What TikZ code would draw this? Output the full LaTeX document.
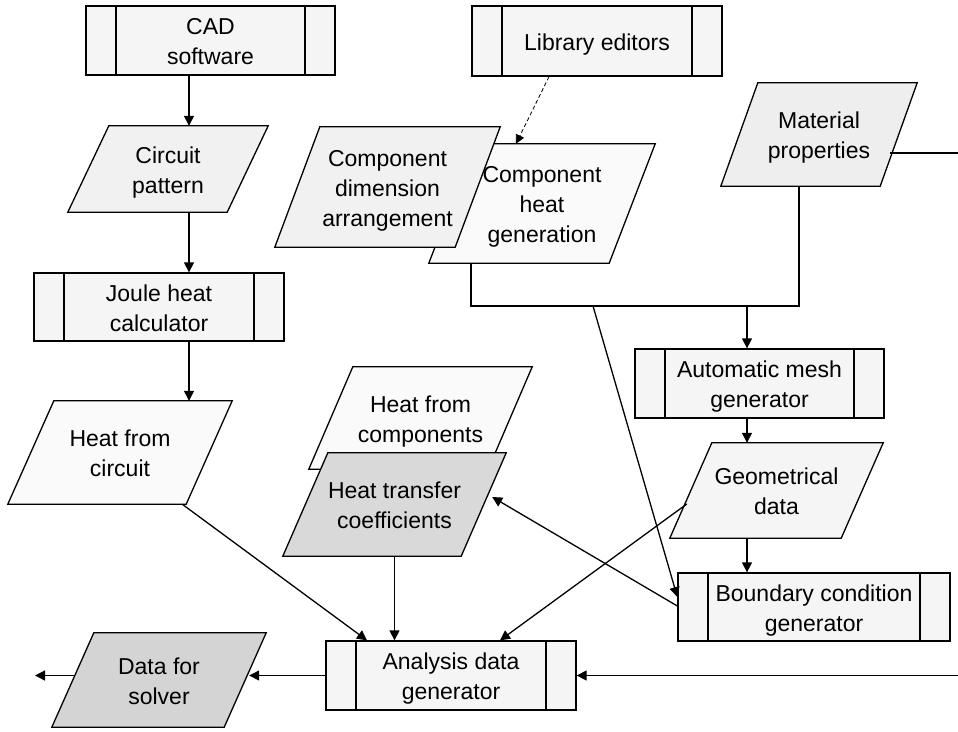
\documentclass[tikz,border=0pt]{standalone}
\usepackage{fontspec}
\setmainfont{Liberation Sans}
\usetikzlibrary{arrows.meta,calc}
\pgfdeclarelayer{background}
\pgfsetlayers{background,main}
\definecolor{pfill}{HTML}{F5F5F5}
\definecolor{lgray}{HTML}{F1F1F1}
\definecolor{wgray}{HTML}{FAFAFA}
\definecolor{mgray}{HTML}{EEEEEE}
\definecolor{dgray}{HTML}{D9D9D9}
\definecolor{sgray}{HTML}{D4D4D4}
\newcommand\paragram[3]{%
  \draw[line width=1.3pt,fill=#3] ([xshift=#2pt]#1.north west) -- (#1.north east) -- ([xshift=-#2pt]#1.south east) -- (#1.south west) -- cycle;}
\newcommand\tl[1]{\rule{0pt}{24.4pt}#1\rule[-6pt]{0pt}{0pt}}
\begin{document}
\begin{tikzpicture}[x=1pt,y=-1pt,
  font=\fontsize{23pt}{30pt}\selectfont,
  proc/.style={draw, line width=1.3pt, fill=pfill, inner sep=0pt, align=center,
    path picture={\draw[line width=1.3pt]
      ([xshift=30pt]path picture bounding box.north west) -- ([xshift=30pt]path picture bounding box.south west)
      ([xshift=-30pt]path picture bounding box.north east) -- ([xshift=-30pt]path picture bounding box.south east);}},
  para/.style={inner sep=0pt, align=center},
  arr/.style={line width=1.3pt, -{Triangle[length=10pt,width=10pt]}},
  plain/.style={line width=1.3pt},
  dasharr/.style={line width=0.8pt, dash pattern=on 4pt off 2.5pt, -{Triangle[length=9pt,width=9pt]}}]
\useasboundingbox (0,0) rectangle (958,731);

% process boxes
\node[proc, minimum width=249pt, minimum height=69pt] (cad) at (210.5,40.5) {\tl{CAD\\software}};
\node[proc, minimum width=250pt, minimum height=70pt] (lib) at (597,41) {\tl{Library editors}};
\node[proc, minimum width=250pt, minimum height=68pt] (joule) at (159,307) {\tl{Joule heat\\calculator}};
\node[proc, minimum width=249pt, minimum height=69pt] (mesh) at (759.5,383.5) {\tl{Automatic mesh\\generator}};
\node[proc, minimum width=272pt, minimum height=68pt] (bcg) at (814,607) {\tl{Boundary condition\\generator}};
\node[proc, minimum width=250pt, minimum height=69pt] (ana) at (451,675.5) {\tl{Analysis data\\generator}};

% data (parallelogram) nodes
\node[para, minimum width=200pt, minimum height=86pt] (circ) at (168,169) {\tl{Circuit\\pattern}};
\node[para, minimum width=226pt, minimum height=119pt] (chg) at (542,203.5) {\tl{Component\\heat\\generation}};
\node[para, minimum width=225pt, minimum height=120pt] (cda) at (387.5,187) {\tl{Component\\dimension\\arrangement}};
\node[para, minimum width=196pt, minimum height=103pt] (mat) at (819,134.5) {\tl{Material\\properties}};
\node[para, minimum width=224pt, minimum height=103pt] (hfc) at (120,452.5) {\tl{Heat from\\circuit}};
\node[para, minimum width=223pt, minimum height=102pt] (hcomp) at (420.5,418) {\tl{Heat from\\components}};
\node[para, minimum width=223pt, minimum height=103pt] (htc) at (394.5,504.5) {\tl{Heat transfer\\coefficients}};
\node[para, minimum width=213pt, minimum height=95pt] (geo) at (776.5,490.5) {\tl{Geometrical\\data}};
\node[para, minimum width=214pt, minimum height=94pt] (dfs) at (159,680) {\tl{Data for\\solver}};

\begin{pgfonlayer}{background}
  \paragram{circ}{41}{lgray}
  \paragram{chg}{46}{wgray}
  \paragram{cda}{45}{lgray}
  \paragram{mat}{37}{mgray}
  \paragram{hfc}{46}{wgray}
  \paragram{hcomp}{44}{wgray}
  \paragram{htc}{45}{dgray}
  \paragram{geo}{42}{pfill}
  \paragram{dfs}{42}{sgray}
\end{pgfonlayer}

% helper coordinates
\coordinate (xa) at (189,0);
\coordinate (xb) at (747,0);
\coordinate (xc) at (593,0);
\coordinate (bus) at (0,306);
\coordinate (chgb) at ([xshift=-71pt]chg.south);
\coordinate (matb) at ([xshift=-20pt]mat.south);
\coordinate (out) at (35,675.5);

% connectors
\draw[arr] (cad.south -| xa) -- (circ.north -| xa);
\draw[arr] (circ.south -| xa) -- (joule.north -| xa);
\draw[arr] (joule.south -| xa) -- (hfc.north -| xa);
\draw[dasharr] ([xshift=-48pt]lib.south) -- ([xshift=-26pt]chg.north);
\draw[plain] (chgb) |- (matb |- bus) -- (matb);
\draw[arr] (xb |- bus) -- (xb |- mesh.north);
\draw[arr] (xb |- mesh.south) -- (xb |- geo.north);
\draw[arr] (xb |- geo.south) -- (xb |- bcg.north);
\draw[arr] (xc |- bus) -- ([yshift=10pt]bcg.west);
\draw[arr] ([xshift=-27pt,yshift=-18.5pt]mat.east) -- ++(72,0) |- (ana.east);
\draw[arr] ([xshift=-50pt]hfc.south east) -- ([xshift=-84pt]ana.north);
\draw[arr] (htc.south) -- (htc.south |- ana.north);
\draw[arr] ([xshift=17pt,yshift=-13.5pt]geo.west) -- ([xshift=49pt]ana.north);
\draw[arr] ([yshift=1pt]bcg.west) -- ([xshift=-14pt,yshift=7.5pt]htc.east);
\draw[arr] (ana.west) -- ([xshift=-17pt,yshift=4.5pt]dfs.east);
\draw[arr] ([xshift=23pt,yshift=4.5pt]dfs.west) -- (out);
\end{tikzpicture}
\end{document}
